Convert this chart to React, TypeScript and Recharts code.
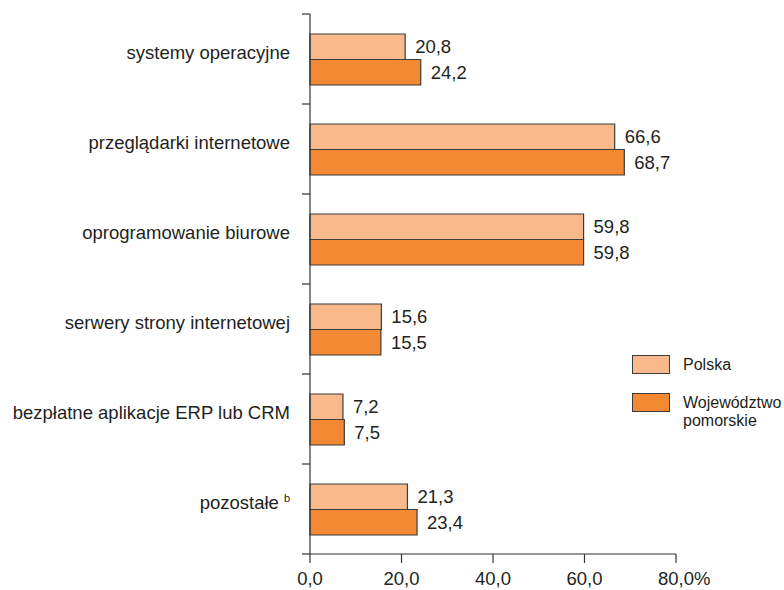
import React from 'react';
import { BarChart, Bar, XAxis, YAxis, Legend, LabelList } from 'recharts';

const categories = [
  'systemy operacyjne',
  'przeglądarki internetowe',
  'oprogramowanie biurowe',
  'serwery strony internetowej',
  'bezpłatne aplikacje ERP lub CRM',
  'pozostałe',
];
const footnotes: Record<string, string> = { 'pozostałe': 'b' };
const polska = [20.8, 66.6, 59.8, 15.6, 7.2, 21.3];
const pomorskie = [24.2, 68.7, 59.8, 15.5, 7.5, 23.4];
const xTicks = [0, 20, 40, 60, 80];

const data = categories.map((name, i) => ({ name, polska: polska[i], pomorskie: pomorskie[i] }));

const FONT = '"Liberation Sans", Arial, sans-serif';
const TEXT = '#231f20';
const AXIS = '#333333';
const LIGHT = '#f9b98a';
const DARK = '#f38a33';
const BORDER = '#3c3c3c';
const FS = 18.5;

const W = 784;
const H = 590;
const TOP = 14;
const X_AXIS_H = 36;
const Y_AXIS_W = 310;
const BAND = (H - TOP - X_AXIS_H) / categories.length;

const fmt = (v: number) => v.toFixed(1).replace('.', ',');

const YTick = (props: any) => {
  const { y, payload, index } = props;
  const note = footnotes[payload.value];
  return (
    <g>
      <line x1={Y_AXIS_W - 8} x2={Y_AXIS_W} y1={y - BAND / 2} y2={y - BAND / 2} stroke={AXIS} strokeWidth={1.2} />
      {index === categories.length - 1 && (
        <line x1={Y_AXIS_W - 8} x2={Y_AXIS_W} y1={y + BAND / 2} y2={y + BAND / 2} stroke={AXIS} strokeWidth={1.2} />
      )}
      <text x={Y_AXIS_W - 20} y={y - 6} dy={6} textAnchor="end" fontSize={FS} fontFamily={FONT} fill={TEXT}>
        {payload.value}
        {note && (
          <tspan dx={5} dy={-7} fontSize={11}>
            {note}
          </tspan>
        )}
      </text>
    </g>
  );
};

const XTick = (props: any) => {
  const { x, y, payload } = props;
  const last = payload.value === xTicks[xTicks.length - 1];
  return (
    <text
      x={last ? x - 18 : x}
      y={y}
      dy={22}
      textAnchor={last ? 'start' : 'middle'}
      fontSize={FS}
      fontFamily={FONT}
      fill={TEXT}
    >
      {fmt(payload.value) + (last ? '%' : '')}
    </text>
  );
};

const LegendBox = (props: any) => {
  const items = props.payload || [];
  return (
    <div style={{ fontFamily: FONT, fontSize: 16, color: TEXT }}>
      {items.map((it: any, i: number) => (
        <div key={i} style={{ display: 'flex', alignItems: 'flex-start', marginBottom: 19 }}>
          <div
            style={{
              width: 38,
              height: 19,
              boxSizing: 'border-box',
              background: it.color,
              border: `1.5px solid ${BORDER}`,
              flexShrink: 0,
            }}
          />
          <div style={{ marginLeft: 13, marginTop: 1, lineHeight: '18px', width: 100 }}>{it.value}</div>
        </div>
      ))}
    </div>
  );
};

export default function App() {
  return (
    <div style={{ position: 'absolute', left: 0, top: 0, background: '#fff' }}>
      <BarChart
        width={W}
        height={H}
        data={data}
        layout="vertical"
        margin={{ top: TOP, right: 108, bottom: 0, left: 0 }}
        barSize={25.5}
        barGap={0}
      >
        <XAxis
          type="number"
          domain={[0, 80]}
          ticks={xTicks}
          height={X_AXIS_H}
          tickSize={9}
          tickMargin={0}
          stroke={AXIS}
          axisLine={{ stroke: AXIS, strokeWidth: 1.2 }}
          tickLine={{ stroke: AXIS, strokeWidth: 1.2 }}
          tick={<XTick />}
          interval={0}
        />
        <YAxis
          type="category"
          dataKey="name"
          width={Y_AXIS_W}
          axisLine={{ stroke: AXIS, strokeWidth: 1.2 }}
          tickLine={false}
          tickSize={0}
          tickMargin={20}
          tick={<YTick />}
          interval={0}
        />
        <Legend
          layout="vertical"
          align="center"
          verticalAlign="middle"
          content={<LegendBox />}
          wrapperStyle={{ left: 632, top: 355, width: 160 }}
        />
        <Bar dataKey="polska" name="Polska" fill={LIGHT} stroke={BORDER} strokeWidth={1.2} isAnimationActive={false}>
          <LabelList dataKey="polska" position="right" offset={10} formatter={fmt} fontSize={FS} fontFamily={FONT} fill={TEXT} />
        </Bar>
        <Bar dataKey="pomorskie" name="Województwo pomorskie" fill={DARK} stroke={BORDER} strokeWidth={1.2} isAnimationActive={false}>
          <LabelList dataKey="pomorskie" position="right" offset={10} formatter={fmt} fontSize={FS} fontFamily={FONT} fill={TEXT} />
        </Bar>
      </BarChart>
    </div>
  );
}
